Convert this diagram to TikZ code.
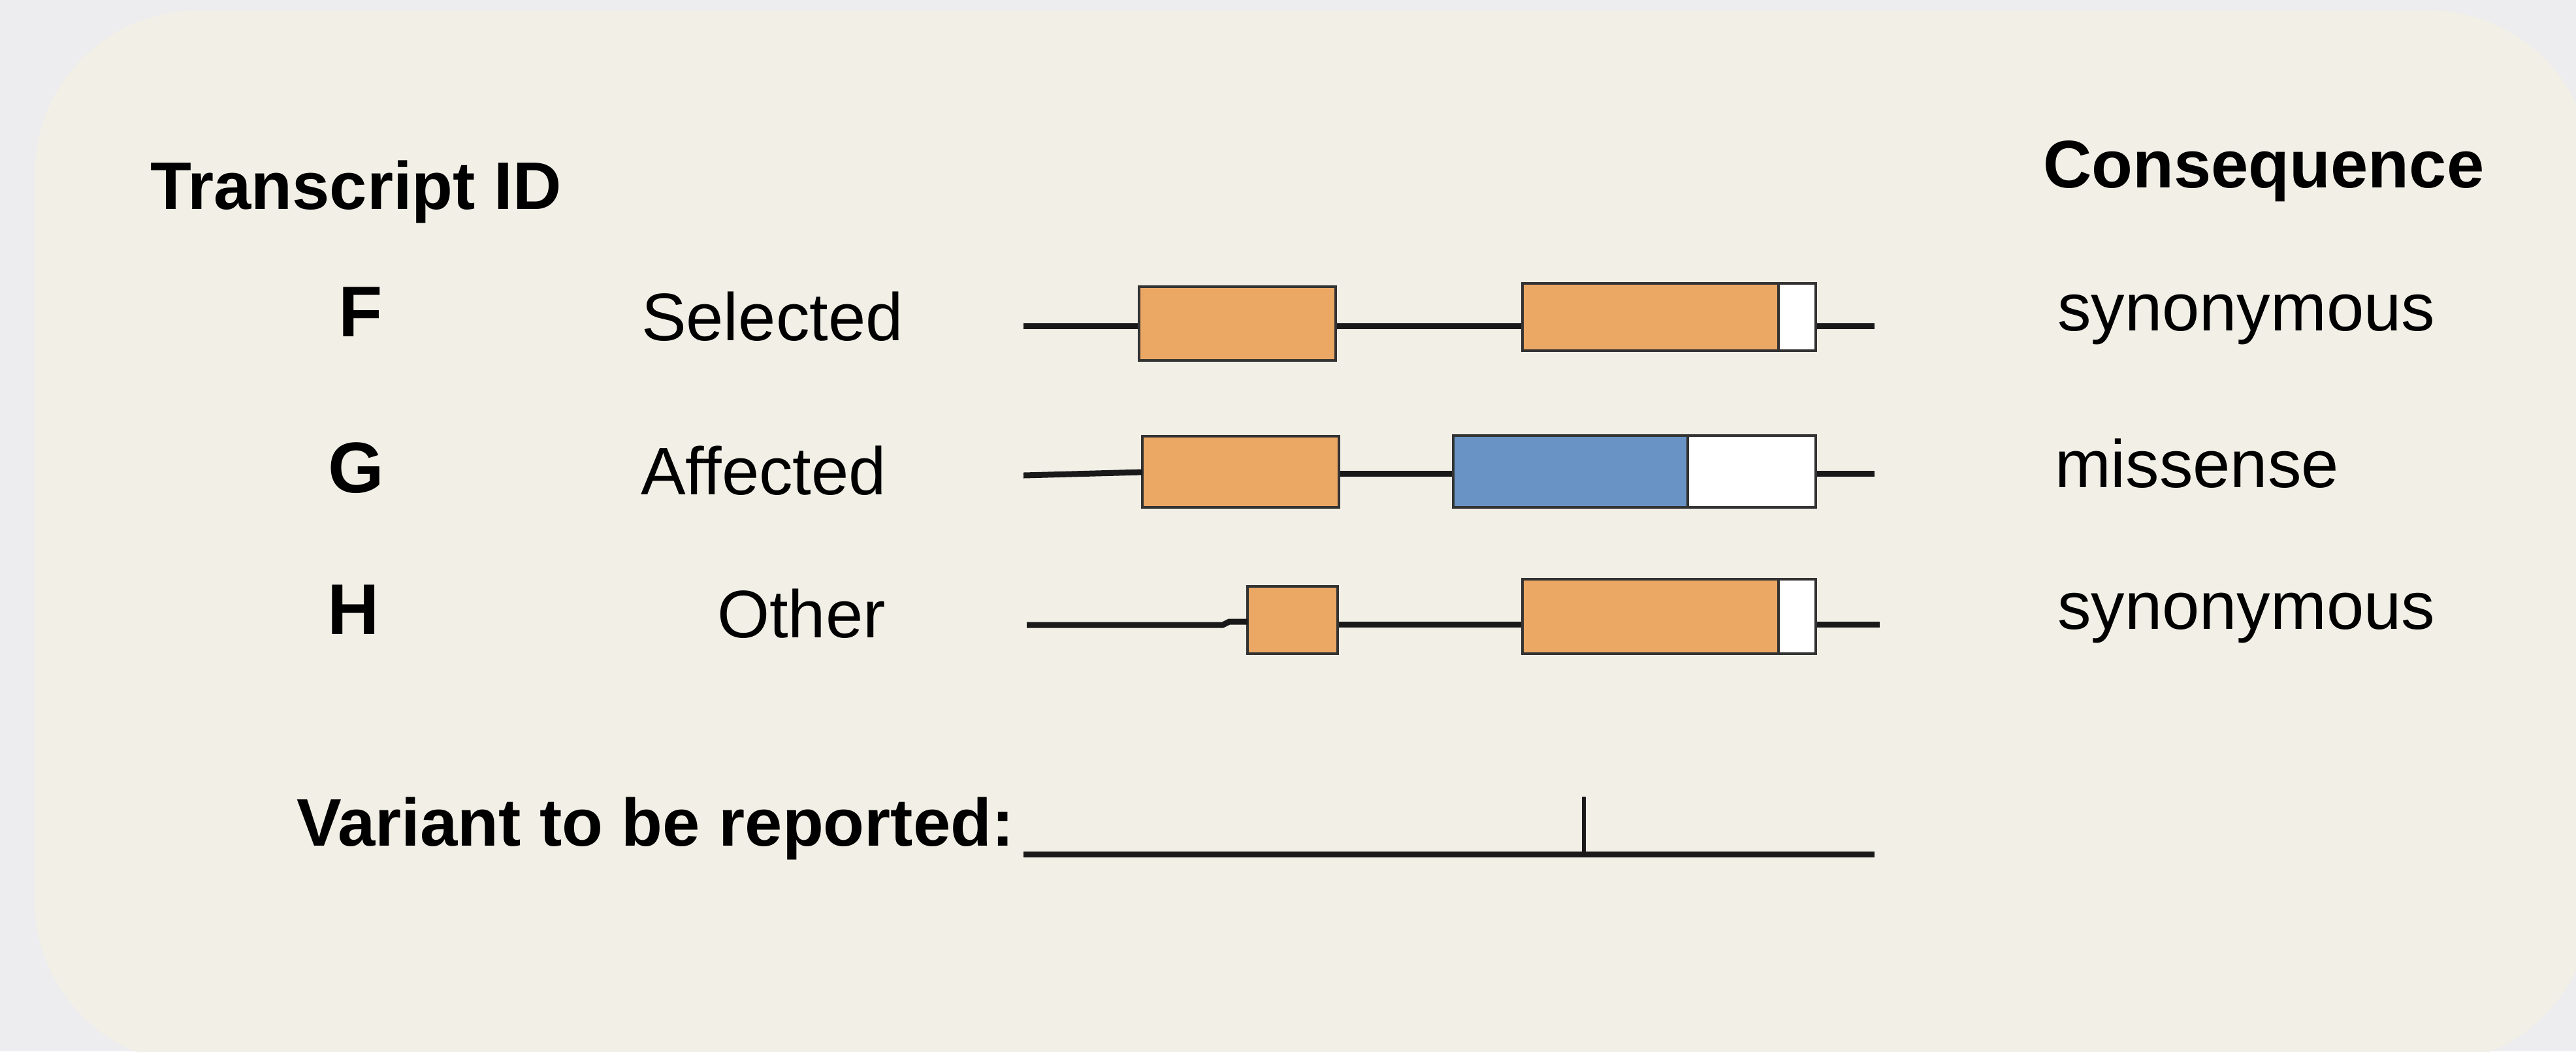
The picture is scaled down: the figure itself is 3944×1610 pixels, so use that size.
\documentclass[tikz,border=0pt]{standalone}
\usepackage{fontspec}
\setmainfont{Liberation Sans}
\begin{document}
\begin{tikzpicture}[x=0.1pt,y=-0.1pt,
  outer/.style={fill=outergrey},
  panel/.style={fill=cream, rounded corners=25pt},
  lab/.style={inner sep=0pt, anchor=base west, font=\fontsize{10.3}{12}\selectfont},
  blab/.style={inner sep=0pt, anchor=base west, font=\fontsize{10.3}{12}\selectfont\bfseries},
  idlab/.style={inner sep=0pt, anchor=base, font=\fontsize{11}{13}\selectfont\bfseries},
  exon/.style={rectangle, inner sep=0pt, draw=black!80, line width=0.35pt, fill=exonorange},
  exonblue/.style={rectangle, inner sep=0pt, draw=black!80, line width=0.35pt, fill=exonblue},
  utr/.style={rectangle, inner sep=0pt, draw=black!80, line width=0.35pt, fill=white},
  intron/.style={draw=black!90, line width=0.9pt},
  tick/.style={draw=black!90, line width=0.6pt}
]
\definecolor{outergrey}{RGB}{237,237,239}
\definecolor{cream}{RGB}{242,239,231}
\definecolor{exonorange}{RGB}{235,168,101}
\definecolor{exonblue}{RGB}{106,147,197}

\useasboundingbox (0,0) rectangle (3944,1610);
\fill[outer] (0,0) rectangle (3944,1610);
\begin{scope}
\clip (0,0) rectangle (3944,1610);
\fill[panel] (53,16) rectangle (3968,1629);
\end{scope}

% headers
\node[blab] (hid) at (228,320) {Transcript ID};
\node[blab] (hcons) at (3126,287) {Consequence};

% IDs
\node[idlab] (idF) at (552,515) {F};
\node[idlab] (idG) at (545,754) {G};
\node[idlab] (idH) at (541,971) {H};

% status labels
\node[lab] (sF) at (980,521) {Selected};
\node[lab] (sG) at (979,757) {Affected};
\node[lab] (sH) at (1096,976) {Other};

% consequences
\node[lab] (cF) at (3148,506) {synonymous};
\node[lab] (cG) at (3144,746) {missense};
\node[lab] (cH) at (3148,963) {synonymous};

% ---- Transcript F ----
\coordinate (fs) at (1567,499);
\coordinate (fe) at (2870,499);
\node[exon, minimum width=30.1pt, minimum height=11.3pt] (f1) at (1894.5,495.5) {};
\node[exon, minimum width=39.2pt, minimum height=10.3pt] (f2) at (2527,485.5) {};
\node[utr, minimum width=5.7pt, minimum height=10.3pt] (f2u) at (2751.5,485.5) {};
\draw[intron] (fs) -- (fs -| f1.west);
\draw[intron] (f1.east |- fs) -- (f2.west |- fs);
\draw[intron] (f2u.east |- fe) -- (fe);

% ---- Transcript G ----
\coordinate (gs) at (1567,728);
\coordinate (ge) at (2870,725);
\node[exon, minimum width=30.1pt, minimum height=10.9pt] (g1) at (1899.5,722.5) {};
\node[exonblue, minimum width=35.9pt, minimum height=11pt] (g2) at (2404.5,722) {};
\node[utr, minimum width=19.6pt, minimum height=11pt] (g2u) at (2682,722) {};
\draw[intron] (gs) -- (1749,723);
\draw[intron] (g1.east |- ge) -- (g2.west |- ge);
\draw[intron] (g2u.east |- ge) -- (ge);

% ---- Transcript H ----
\coordinate (hs) at (1572,957);
\coordinate (he) at (2878,956);
\node[exon, minimum width=13.8pt, minimum height=10.3pt] (h1) at (1979,949.5) {};
\node[exon, minimum width=39.2pt, minimum height=11.4pt] (h2) at (2527,944) {};
\node[utr, minimum width=5.7pt, minimum height=11.4pt] (h2u) at (2751.5,944) {};
\draw[intron] (hs) -- (1872,957) -- (1882,952) -- (1910,952);
\draw[intron] (h1.east |- he) -- (h2.west |- he);
\draw[intron] (h2u.east |- he) -- (he);

% ---- Variant ----
\node[blab] (var) at (452,1295) {Variant to be reported:};
\coordinate (vs) at (1567,1308);
\coordinate (ve) at (2870,1308);
\coordinate (vt) at (2425,1220);
\draw[intron] (vs) -- (ve);
\draw[tick] (vt) -- (vt |- vs);
\end{tikzpicture}
\end{document}
